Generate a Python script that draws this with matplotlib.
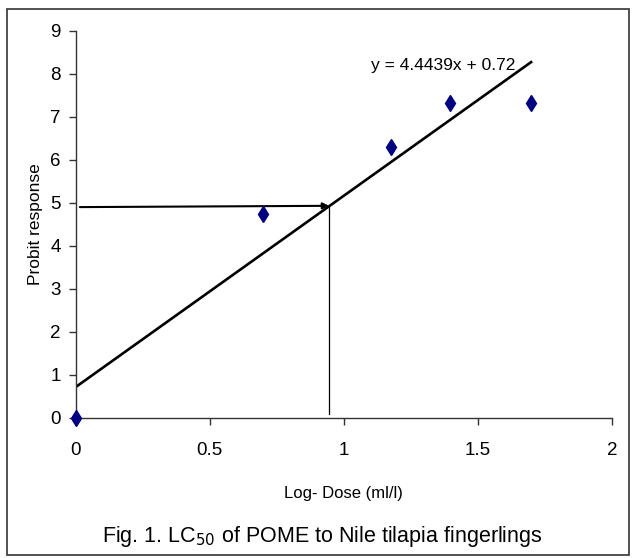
import matplotlib
matplotlib.use("Agg")
import matplotlib.pyplot as plt
from matplotlib.patches import Rectangle

# 字体：Arial 风格
plt.rcParams['font.family'] = ['Liberation Sans', 'DejaVu Sans']

# 数据
log_dose = [0, 0.699, 1.176, 1.398, 1.699]
probit = [0, 4.75, 6.29, 7.33, 7.33]
slope = 4.4439
intercept = 0.72
lc50_x = 0.945
lc50_y = 4.93

fig = plt.figure(figsize=(6.32, 5.58), dpi=100)
ax = fig.add_axes([0.120, 0.251, 0.848, 0.694])

# 趋势线
x_fit = [0, max(log_dose)]
y_fit = [slope * v + intercept for v in x_fit]
ax.plot(x_fit, y_fit, color="black", lw=1.9, zorder=2)

# 散点
ax.plot(log_dose, probit, linestyle="none", marker="d", markersize=8,
        color="#000080", clip_on=False, zorder=4)

# LC50 标记线
ax.annotate("", xy=(lc50_x, lc50_y), xytext=(0.015, 4.90),
            arrowprops=dict(arrowstyle="-|>", lw=1.5, color="black",
                            mutation_scale=9, shrinkA=0, shrinkB=0))
ax.plot([lc50_x, lc50_x], [0.1, lc50_y], color="black", lw=0.9)

ax.text(1.1, 8.2, "y = 4.4439x + 0.72", fontsize=12.5, va="center", ha="left")

ax.set_xlim(0, 2)
ax.set_ylim(0, 9)
ax.set_xticks([0, 0.5, 1, 1.5, 2])
ax.set_xticklabels(["0", "0.5", "1", "1.5", "2"])
ax.set_yticks(range(10))
ax.spines["top"].set_visible(False)
ax.spines["right"].set_visible(False)
for s in ["left", "bottom"]:
    ax.spines[s].set_color("#333333")
    ax.spines[s].set_linewidth(1.0)
ax.tick_params(direction="out", length=5, width=1, color="#333333",
               labelsize=13.5, pad=6)
ax.tick_params(axis="x", pad=12)

ax.set_xlabel("Log- Dose (ml/l)", fontsize=12, labelpad=20)
ax.set_ylabel("Probit response", fontsize=12.5, labelpad=5)

fig.text(0.51, 0.028, "Fig. 1. LC$_{50}$ of POME to Nile tilapia fingerlings",
         ha="center", va="baseline", fontsize=15.5)

# 外框
fig.patches.append(Rectangle((0.011, 0.006), 0.985, 0.978, transform=fig.transFigure,
                             fill=False, edgecolor="#333333", lw=1.2))

plt.savefig("out.png", dpi=100)
